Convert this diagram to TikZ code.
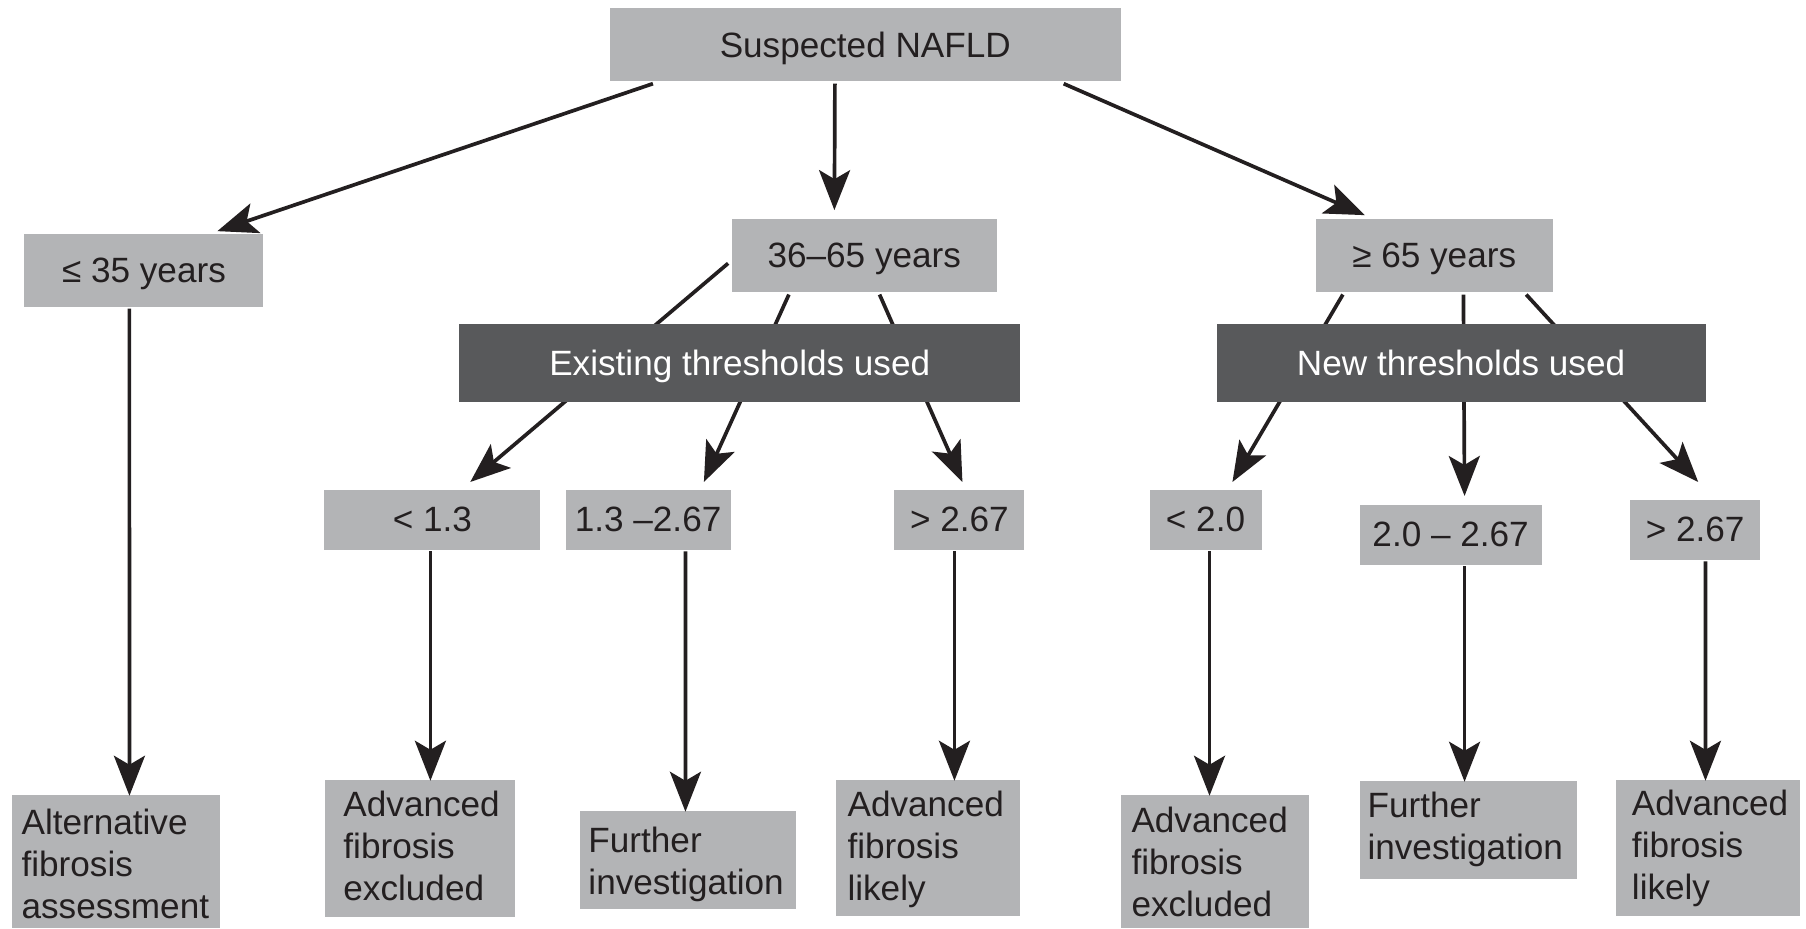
\documentclass[tikz,border=0pt]{standalone}
\usepackage{fontspec}
\setmainfont{Liberation Sans}
\usetikzlibrary{arrows.meta, calc}
\definecolor{boxgray}{HTML}{B3B4B6}
\definecolor{boxdark}{HTML}{58595B}
\definecolor{ink}{HTML}{231F20}

\begin{document}
\begin{tikzpicture}[
  x=0.00996cm, y=-0.01cm,
  every node/.style={font=\fontsize{10}{11.95}\selectfont, text=ink},
  box/.style={rectangle, fill=boxgray, inner sep=0pt, text depth=0pt},
  dark/.style={rectangle, fill=boxdark, text=white, inner sep=0pt, text depth=0pt},
  outbox/.style={rectangle, fill=boxgray, inner ysep=0pt, align=left},
  arr/.style={-{Stealth[length=4mm, width=3.1mm, inset=0.9mm]}, draw=ink, line width=1.05pt}
]
  \useasboundingbox (0,0) rectangle (1812.7,929);
  % age groups
  \node[box, minimum width=5.11cm, minimum height=0.73cm] (top) at (868.5,44.5) {Suspected NAFLD};
  \node[box, minimum width=2.39cm, minimum height=0.73cm] (y35) at (144.5,270.5) {≤ 35 years};
  \node[box, minimum width=2.65cm, minimum height=0.73cm] (y3665) at (867.5,255.5) {36–65 years};
  \node[box, minimum width=2.37cm, minimum height=0.73cm] (y65) at (1439.5,255.5) {≥ 65 years};
  % thresholds
  \node[box, minimum width=2.16cm, minimum height=0.60cm] (lt13) at (434,520) {< 1.3};
  \node[box, minimum width=1.65cm, minimum height=0.60cm] (r13) at (650.5,520) {1.3 –2.67};
  \node[box, minimum width=1.30cm, minimum height=0.60cm] (gt267a) at (963,520) {> 2.67};
  \node[box, minimum width=1.12cm, minimum height=0.60cm] (lt20) at (1210,520) {< 2.0};
  \node[box, minimum width=1.82cm, minimum height=0.60cm] (r20) at (1456,535) {2.0 – 2.67};
  \node[box, minimum width=1.30cm, minimum height=0.60cm] (gt267b) at (1701.5,530) {> 2.67};
  % outcomes (text height = first baseline below the top edge)
  \node[outbox, text width=1.88cm, inner xsep=0.10cm, text height=0.39cm, text depth=0.94cm] (alt) at (116,862.5)
    {Alternative\\fibrosis\\assessment};
  \node[outbox, text width=1.54cm, inner xsep=0.18cm, text height=0.36cm, text depth=1.01cm] (afe1) at (422,849.5)
    {Advanced\\fibrosis\\excluded};
  \node[outbox, text width=2.00cm, inner xsep=0.08cm, text height=0.41cm, text depth=0.57cm] (fi1) at (691,861)
    {Further\\investigation};
  \node[outbox, text width=1.60cm, inner xsep=0.12cm, text height=0.36cm, text depth=1.00cm] (afl1) at (931,849)
    {Advanced\\fibrosis\\likely};
  \node[outbox, text width=1.67cm, inner xsep=0.11cm, text height=0.37cm, text depth=0.96cm] (afe2) at (1219.5,862.5)
    {Advanced\\fibrosis\\excluded};
  \node[outbox, text width=2.01cm, inner xsep=0.08cm, text height=0.36cm, text depth=0.62cm] (fi2) at (1473.5,831)
    {Further\\investigation};
  \node[outbox, text width=1.52cm, inner xsep=0.16cm, text height=0.35cm, text depth=1.01cm] (afl2) at (1714.3,849)
    {Advanced\\fibrosis\\likely};

  % connectors
  \draw[arr] ($(top.south west)+(44,2)$) -- ($(y35.north east)+(-47,-2)$);
  \draw[arr] ($(top.south)+(-30.5,2)$) -- ($(y3665.north)+(-30,-8)$);
  \draw[arr] ($(top.south east)+(-58,2)$) -- ($(y65.north west)+(50,-3)$);
  \draw[arr] ($(y3665.west)+(-3,8)$) -- ($(lt13.north)+(38,-7)$);
  \draw[arr] ($(y3665.south west)+(58,2)$) -- ($(r13.north)+(56,-7)$);
  \draw[arr] ($(y3665.south west)+(149,2)$) -- ($(gt267a.north)+(3,-7)$);
  \draw[arr] ($(y65.south west)+(28,2)$) -- ($(lt20.north)+(27,-7)$);
  \draw[arr] ($(y65.south west)+(149,2)$) -- ($(r20.north)+(14,-8)$);
  \draw[arr] ($(y65.south west)+(212,2)$) -- ($(gt267b.north)+(3,-17)$);
  \draw[arr] ($(y35.south west)+(106,1)$) -- ($(alt.north west)+(119,1)$);
  \draw[arr] ($(lt13.south)+(-2,1)$) -- ($(afe1.north)+(10,1)$);
  \draw[arr] ($(r13.south)+(37.5,1)$) -- ($(fi1.north)+(-3,1)$);
  \draw[arr] ($(gt267a.south)+(-5,1)$) -- ($(afl1.north)+(27,1)$);
  \draw[arr] ($(lt20.south)+(4,1)$) -- ($(afe2.north)+(-5.5,1)$);
  \draw[arr] ($(r20.south)+(14,1)$) -- ($(fi2.north)+(-3.5,1)$);
  \draw[arr] ($(gt267b.south)+(10.3,1)$) -- ($(afl2.north)+(-2.5,1)$);

  % threshold bars over the lines
  \node[dark, minimum width=5.61cm, minimum height=0.78cm] (exist) at (742.5,363) {Existing thresholds used};
  \node[dark, minimum width=4.89cm, minimum height=0.78cm] (new) at (1466.5,363) {New thresholds used};
\end{tikzpicture}
\end{document}
